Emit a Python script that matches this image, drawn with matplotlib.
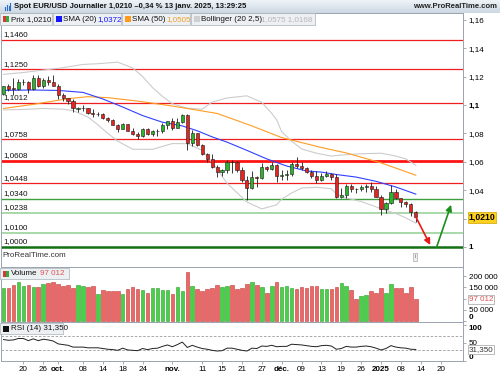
#!/usr/bin/env python3
# Daily EUR/USD candles with SMA, Bollinger, volume and RSI panels

import numpy as np
import pandas as pd
import matplotlib.pyplot as plt
from matplotlib.patches import Rectangle

plt.rcParams['font.family'] = ['Liberation Sans', 'DejaVu Sans']

#==============================================================================
# data

first_day = '2024-09-16'
closed_days = ['2024-12-25', '2025-01-01']

opens = [1.1075, 1.1132, 1.1117, 1.1114, 1.1160, 1.1164, 1.1111, 1.1190, 1.1134, 1.1178,
         1.1164, 1.1135, 1.1068, 1.1047, 1.1031, 1.0972, 1.0975, 1.0978, 1.0942, 1.0934,
         1.0937, 1.0908, 1.0891, 1.0862, 1.0833, 1.0867, 1.0817, 1.0797, 1.0782, 1.0827,
         1.0796, 1.0815, 1.0816, 1.0856, 1.0884, 1.0834, 1.0880, 1.0932, 1.0730, 1.0800,
         1.0720, 1.0655, 1.0622, 1.0565, 1.0530, 1.0541, 1.0597, 1.0595, 1.0543, 1.0473,
         1.0417, 1.0494, 1.0487, 1.0566, 1.0551, 1.0577, 1.0499, 1.0509, 1.0511, 1.0587,
         1.0567, 1.0554, 1.0527, 1.0499, 1.0468, 1.0502, 1.0514, 1.0490, 1.0352, 1.0366,
         1.0429, 1.0406, 1.0405, 1.0422, 1.0428, 1.0406, 1.0354, 1.0265, 1.0308, 1.0389,
         1.0342, 1.0320, 1.0300, 1.0243]
highs = [1.1136, 1.1147, 1.1189, 1.1180, 1.1180, 1.1168, 1.1214, 1.1214, 1.1187, 1.1202,
         1.1209, 1.1145, 1.1082, 1.1050, 1.1040, 1.0983, 1.0998, 1.0981, 1.0969, 1.0950,
         1.0940, 1.0912, 1.0904, 1.0868, 1.0871, 1.0867, 1.0837, 1.0806, 1.0837, 1.0838,
         1.0826, 1.0830, 1.0870, 1.0885, 1.0905, 1.0905, 1.0937, 1.0937, 1.0826, 1.0805,
         1.0722, 1.0661, 1.0652, 1.0575, 1.0550, 1.0609, 1.0610, 1.0608, 1.0566, 1.0497,
         1.0536, 1.0501, 1.0588, 1.0568, 1.0597, 1.0584, 1.0540, 1.0545, 1.0595, 1.0630,
         1.0595, 1.0564, 1.0541, 1.0536, 1.0524, 1.0535, 1.0519, 1.0515, 1.0412, 1.0444,
         1.0446, 1.0413, 1.0437, 1.0445, 1.0458, 1.0430, 1.0367, 1.0318, 1.0436, 1.0406,
         1.0343, 1.0323, 1.0313, 1.0250]
lows = [1.1070, 1.1100, 1.1069, 1.1104, 1.1137, 1.1083, 1.1107, 1.1123, 1.1121, 1.1137,
        1.1132, 1.1043, 1.1030, 1.1003, 1.0952, 1.0950, 1.0958, 1.0937, 1.0917, 1.0925,
        1.0900, 1.0880, 1.0860, 1.0811, 1.0830, 1.0813, 1.0790, 1.0761, 1.0777, 1.0791,
        1.0781, 1.0780, 1.0805, 1.0830, 1.0823, 1.0834, 1.0870, 1.0682, 1.0713, 1.0710,
        1.0647, 1.0595, 1.0555, 1.0496, 1.0498, 1.0523, 1.0524, 1.0530, 1.0460, 1.0332,
        1.0411, 1.0424, 1.0475, 1.0532, 1.0545, 1.0460, 1.0474, 1.0472, 1.0502, 1.0555,
        1.0540, 1.0520, 1.0483, 1.0453, 1.0465, 1.0491, 1.0473, 1.0343, 1.0343, 1.0343,
        1.0384, 1.0383, 1.0394, 1.0390, 1.0385, 1.0350, 1.0226, 1.0240, 1.0302, 1.0335,
        1.0281, 1.0282, 1.0215, 1.0178]
closes = [1.1132, 1.1115, 1.1114, 1.1162, 1.1164, 1.1111, 1.1190, 1.1134, 1.1178, 1.1164,
          1.1135, 1.1068, 1.1047, 1.1031, 1.0975, 1.0978, 1.0980, 1.0942, 1.0937, 1.0937,
          1.0908, 1.0891, 1.0862, 1.0833, 1.0867, 1.0817, 1.0797, 1.0782, 1.0827, 1.0796,
          1.0815, 1.0816, 1.0856, 1.0884, 1.0834, 1.0880, 1.0932, 1.0730, 1.0800, 1.0720,
          1.0655, 1.0622, 1.0565, 1.0530, 1.0541, 1.0597, 1.0595, 1.0543, 1.0473, 1.0417,
          1.0494, 1.0487, 1.0566, 1.0551, 1.0577, 1.0499, 1.0509, 1.0511, 1.0587, 1.0567,
          1.0554, 1.0527, 1.0499, 1.0468, 1.0502, 1.0514, 1.0490, 1.0352, 1.0366, 1.0429,
          1.0406, 1.0405, 1.0422, 1.0428, 1.0406, 1.0354, 1.0265, 1.0308, 1.0389, 1.0342,
          1.0320, 1.0300, 1.0243, 1.0210]

# volume in thousands
volumes = [145, 145, 160, 172, 157, 160, 150, 150, 164, 167,
           172, 164, 155, 162, 145, 162, 157, 150, 155, 120,
           136, 135, 132, 135, 120, 142, 150, 141, 136, 125,
           148, 148, 136, 136, 120, 150, 134, 218, 155, 143,
           135, 142, 145, 158, 150, 155, 160, 142, 148, 164,
           172, 160, 150, 123, 157, 172, 150, 155, 145, 141,
           150, 145, 157, 157, 141, 142, 141, 150, 167, 157,
           138, 98, 111, 115, 133, 123, 145, 123, 164, 145,
           145, 123, 150, 97.012]

rsi14 = [59, 57, 58, 62, 62, 56, 61, 56, 60, 58,
         55, 47, 45, 43, 38, 38, 38, 36, 36, 36,
         34, 32, 31, 29, 35, 30, 29, 28, 34, 31,
         34, 35, 40, 44, 39, 45, 52, 37, 43, 38,
         34, 32, 29, 27, 28, 35, 35, 32, 29, 27,
         35, 34, 41, 40, 43, 39, 40, 40, 46, 45,
         44, 42, 40, 39, 42, 43, 41, 32, 34, 40,
         38, 38, 40, 41, 39, 35, 30, 34, 42, 38,
         36, 35, 32, 31.35]

# indicator lines, read at some bars
sma20_bar = [0, 6, 11, 16, 20, 24, 28, 32, 36, 39, 42, 45, 49, 53, 57, 61, 64, 67, 71, 75, 79, 83]
sma20 = [1.1102, 1.1105, 1.1102, 1.1088, 1.1042, 1.0985, 1.0925, 1.0878, 1.0852, 1.0818, 1.0775,
         1.0738, 1.0680, 1.0620, 1.0570, 1.0535, 1.0527, 1.0510, 1.0492, 1.0462, 1.0422, 1.0372]
sma50_bar = [0, 6, 13, 17, 21, 27, 34, 43, 50, 56, 64, 69, 76, 83]
sma50 = [1.0975, 1.1004, 1.1044, 1.1058, 1.1051, 1.1027, 1.0992, 1.0940, 1.0852, 1.0770,
         1.0700, 1.0662, 1.0592, 1.0505]
boll_up_bar = [0, 4, 8, 12, 16, 19, 23, 26, 28, 30, 32, 34, 37, 40, 42, 45, 49, 52, 54, 55,
               56, 58, 60, 63, 66, 69, 72, 76, 79, 81, 83]
boll_up = [1.1215, 1.1228, 1.1245, 1.1262, 1.1285, 1.1290, 1.1301, 1.1260, 1.1200, 1.1122,
           1.1060, 1.1008, 1.0977, 1.0970, 1.1020, 1.1049, 1.1064, 1.1018, 1.0940, 1.0894,
           1.0811, 1.0745, 1.0690, 1.0660, 1.0640, 1.0650, 1.0656, 1.0660, 1.0640, 1.0620,
           1.0575]
boll_low_bar = [0, 4, 8, 12, 14, 17, 19, 21, 23, 26, 30, 34, 37, 40, 42, 45, 49, 52, 55, 56,
                58, 60, 63, 66, 67, 69, 72, 76, 79, 81, 83]
boll_low = [1.0965, 1.0968, 1.0975, 1.0970, 1.0960, 1.0915, 1.0860, 1.0800, 1.0745, 1.0688,
            1.0687, 1.0728, 1.0727, 1.0680, 1.0595, 1.0449, 1.0316, 1.0268, 1.0297, 1.0336,
            1.0380, 1.0415, 1.0420, 1.0410, 1.0373, 1.0345, 1.0320, 1.0270, 1.0235, 1.0205,
            1.0168]

levels = [1.1460, 1.1250, 1.1012, 1.0758, 1.0608, 1.0448, 1.0340, 1.0238, 1.0100, 1.0000]

tick_dates = ['2024-09-20', '2024-09-26', '2024-10-01', '2024-10-08', '2024-10-14',
              '2024-10-18', '2024-10-24', '2024-11-01', '2024-11-11', '2024-11-15',
              '2024-11-21', '2024-11-27', '2024-12-03', '2024-12-09', '2024-12-13',
              '2024-12-19', '2024-12-26', '2025-01-02', '2025-01-08', '2025-01-14',
              '2025-01-20']
tick_labels = ['20', '26', 'oct.', '08', '14', '18', '24', 'nov.', '11', '15', '21', '27',
               'déc.', '09', '13', '19', '26', '2025', '08', '14', '20']
bold_ticks = ['oct.', 'nov.', 'déc.', '2025']

# projected move drawn as two arrows (bar position, price)
red_arrow_x = [83, 85.9]
red_arrow_y = [1.0212, 1.0014]
green_arrow_x = [87.2, 90.1]
green_arrow_y = [1.0000, 1.0297]

#==============================================================================
# layout helpers (pixels of a 500x375 picture)
W, H = 500, 375


def px_box(left, top, right, bottom):
    return [left / W, 1 - bottom / H, (right - left) / W, (bottom - top) / H]


def fxy(px, py):
    return px / W, 1 - py / H


def comma(v, nd):
    return f'{v:.{nd}f}'.replace('.', ',')


days = pd.bdate_range(first_day, '2025-01-31')
days = days[~days.isin(pd.to_datetime(closed_days))]
bar_of = {d: i for i, d in enumerate(days)}
tick_pos = [bar_of[pd.Timestamp(d)] for d in tick_dates]

o = np.array(opens)
h = np.array(highs)
l = np.array(lows)
c = np.array(closes)
x = np.arange(len(o))
up = c >= o

edge_col = '#9aa4ae'
fs = 5.8

fig = plt.figure(figsize=(5, 3.75), dpi=100)

# title bar
ax_t = fig.add_axes(px_box(0, 0, 500, 13))
grad = np.linspace(0, 1, 20).reshape(-1, 1)
ax_t.imshow(grad, aspect='auto', cmap=plt.matplotlib.colors.LinearSegmentedColormap.from_list(
    'bar', ['#eef3f8', '#cdd8e3']), extent=[0, 1, 0, 1])
ax_t.set_xlim(0, 1)
ax_t.set_ylim(0, 1)
ax_t.axis('off')
for k, hgt in enumerate([0.35, 0.6, 0.45, 0.8]):
    ax_t.add_line(plt.Line2D([0.009 + k * 0.004] * 2, [0.2, 0.2 + hgt * 0.7],
                             color='#2a6fd0', lw=0.8))
ax_t.text(0.028, 0.5, 'Spot EUR/USD Journalier 1,0210 \u20130,34 % 13 janv. 2025, 13:29:25',
          fontsize=5.5, fontweight='bold', va='center', ha='left', color='#111111')
ax_t.text(0.995, 0.5, 'www.ProRealTime.com', fontsize=5.5, fontweight='bold',
          va='center', ha='right', color='#222222')

ax = fig.add_axes(px_box(1, 13, 463, 267))
axv = fig.add_axes(px_box(1, 267, 463, 322), sharex=ax)
axr = fig.add_axes(px_box(1, 322, 463, 361), sharex=ax)

#==============================================================================
# price panel
level_style = [('#f01e1e', 0.9), ('#f01e1e', 0.9), ('#f01e1e', 0.9), ('#f01e1e', 0.9),
               ('#ff1414', 2.0), ('#f01e1e', 0.9), ('#3d9f3d', 1.0), ('#a8d8a8', 1.4),
               ('#a8d8a8', 1.4), ('#137013', 1.8)]
for lev, (col, lw) in zip(levels, level_style):
    ax.axhline(lev, color=col, lw=lw, zorder=1)
    ax.annotate(comma(lev, 4), xy=(0, lev), xycoords=('axes fraction', 'data'),
                xytext=(1.5, 1.2), textcoords='offset points', va='bottom', ha='left',
                fontsize=fs, color='#111111', zorder=6)

ax.plot(boll_up_bar, boll_up, color='#cccccc', lw=0.8, zorder=2)
ax.plot(boll_low_bar, boll_low, color='#cccccc', lw=0.8, zorder=2)
ax.plot(sma50_bar, sma50, color='#ff9c22', lw=0.8, zorder=2)
ax.plot(sma20_bar, sma20, color='#3040ff', lw=0.8, zorder=2)

ax.vlines(x, l, h, color='#1a1a1a', lw=0.6, zorder=3)
body = np.maximum(np.abs(c - o), 0.00025)
ax.bar(x, body, bottom=np.minimum(o, c), width=0.64,
       color=np.where(up, '#2cb52c', '#e3261f'), edgecolor='#1a1a1a', linewidth=0.4, zorder=4)

ax.annotate('', xy=(red_arrow_x[1], red_arrow_y[1]), xytext=(red_arrow_x[0], red_arrow_y[0]),
            arrowprops=dict(arrowstyle='-|>', color='#e81a1a', lw=1.2, mutation_scale=9,
                            shrinkA=0, shrinkB=0), zorder=5)
ax.annotate('', xy=(green_arrow_x[1], green_arrow_y[1]), xytext=(green_arrow_x[0], green_arrow_y[0]),
            arrowprops=dict(arrowstyle='-|>', color='#1d8e1d', lw=1.2, mutation_scale=9,
                            shrinkA=0, shrinkB=0), zorder=5)

ax.set_xlim(-0.5, 92.5)
ax.set_ylim(0.9859, 1.1647)
ptick = [1.0, 1.02, 1.04, 1.06, 1.08, 1.1, 1.12, 1.14, 1.16]
# 1,02 sits under the last price box, so it gets no text
plabels = ['' if v == 1.02 else f'{v:g}'.replace('.', ',') for v in ptick]
ax.yaxis.tick_right()
ax.set_yticks(ptick, plabels)
for t in ax.get_yticklabels():
    if t.get_text() in ('1', '1,1'):
        t.set_fontweight('bold')
ax.annotate('1,0210', xy=(1, closes[-1]), xycoords=('axes fraction', 'data'),
            xytext=(4, 0), textcoords='offset points', va='center', ha='left',
            fontsize=6.2, fontweight='bold', annotation_clip=False,
            bbox=dict(boxstyle='square,pad=0.12', fc='#ffd01c', ec='#d0a400', lw=0.5))
ax.text(0.004, 0.04, 'ProRealTime.com', transform=ax.transAxes, fontsize=fs, color='#333333')
ax.text(0.897, 0.03, 'i', transform=ax.transAxes, fontsize=4.5, color='#666666',
        ha='center', va='bottom',
        bbox=dict(boxstyle='square,pad=0.2', fc='#eeeeee', ec='#999999', lw=0.4))

#==============================================================================
# volume panel
vol = np.array(volumes) * 1000
axv.bar(x, vol, width=0.72, color=np.where(up, '#48d048', '#ec6868'),
        edgecolor=np.where(up, '#2b9e2b', '#c23b3b'), linewidth=0.4)
axv.set_ylim(-4400, 240000)
vtick = [0, 50000, 100000, 150000, 200000]
axv.yaxis.tick_right()
# 100 000 is covered by the last volume box
axv.set_yticks(vtick, ['0', '50 000', '', '150 000', '200 000'])
t0 = axv.get_yticklabels()[0]
t0.set_fontweight('bold')
t0.set_verticalalignment('bottom')
axv.annotate('97 012', xy=(1, volumes[-1] * 1000), xycoords=('axes fraction', 'data'),
             xytext=(4, 0), textcoords='offset points', va='center', ha='left',
             fontsize=fs, color='#e05050', annotation_clip=False,
             bbox=dict(boxstyle='square,pad=0.12', fc='white', ec='#a0a0a0', lw=0.5))

#==============================================================================
# RSI panel
axr.axhline(70, color='#9a9a9a', lw=0.6, ls=(0, (3, 2)))
axr.axhline(30, color='#9a9a9a', lw=0.6, ls=(0, (3, 2)))
axr.plot(x, rsi14, color='#202020', lw=0.7)
axr.set_ylim(-0.8, 108)
axr.yaxis.tick_right()
axr.set_yticks([0, 50, 100], ['0', '50', '100'])
for t in axr.get_yticklabels():
    if t.get_text() in ('0', '100'):
        t.set_fontweight('bold')
    if t.get_text() == '0':
        t.set_verticalalignment('bottom')
    if t.get_text() == '100':
        t.set_verticalalignment('top')
axr.annotate('31,350', xy=(1, rsi14[-1]), xycoords=('axes fraction', 'data'),
             xytext=(4, 0), textcoords='offset points', va='center', ha='left',
             fontsize=fs, color='#333333', annotation_clip=False,
             bbox=dict(boxstyle='square,pad=0.12', fc='white', ec='#a0a0a0', lw=0.5))

axr.set_xticks(tick_pos, tick_labels)
for t in axr.get_xticklabels():
    if t.get_text() in bold_ticks:
        t.set_fontweight('bold')

for a in (ax, axv, axr):
    a.set_facecolor('white')
    for s in a.spines.values():
        s.set_color(edge_col)
        s.set_linewidth(0.7)
    a.tick_params(axis='y', labelsize=fs, length=2.5, width=0.5, color='#8a8a8a', pad=1.5)
for a in (ax, axv):
    a.tick_params(axis='x', length=0, labelbottom=False)
axr.tick_params(axis='x', labelsize=fs, length=2, width=0.5, color='#8a8a8a', pad=1.5)

#==============================================================================
# legend boxes drawn on the figure


def legend_box(x0, x1, y0, y1):
    fig.patches.append(Rectangle(fxy(x0, y1), (x1 - x0) / W, (y1 - y0) / H,
                                 transform=fig.transFigure, fc='#edf0f3', ec='#a8b1ba',
                                 lw=0.5, zorder=5))


def swatch(x0, y0, wd, ht, col):
    fig.patches.append(Rectangle(fxy(x0, y0 + ht), wd / W, ht / H,
                                 transform=fig.transFigure, fc=col, ec='none', zorder=6))


def label(px, py, s, col='#111111'):
    fig.text(*fxy(px, py), s, fontsize=fs, color=col, va='center', ha='left', zorder=7)


legend_box(0, 52, 13, 25)
swatch(3, 16, 3, 6, '#d33a3a')
swatch(6, 16, 3, 6, '#3aa83a')
label(11, 19.5, 'Prix 1,0210')

legend_box(53, 121, 13, 25)
swatch(56, 16, 6, 6, '#1414ff')
label(63, 19.5, 'SMA (20)')
label(97, 19.5, '1,0372', '#1414ff')

legend_box(122, 190, 13, 25)
swatch(125, 16, 6, 6, '#ff9a1a')
label(132, 19.5, 'SMA (50)')
label(166, 19.5, '1,0505', '#f0a030')

legend_box(191, 315, 13, 25)
swatch(194, 16, 6, 6, '#cfcfcf')
label(201, 19.5, 'Bollinger (20 2,5)')
label(261, 19.5, '1,0575 1,0168', '#b5b5b5')

legend_box(0, 69, 268, 279)
swatch(3, 270.5, 3, 6, '#d33a3a')
swatch(6, 270.5, 3, 6, '#3aa83a')
label(11, 273.5, 'Volume')
label(40, 273.5, '97 012', '#e05050')

legend_box(0, 63, 323, 334)
swatch(3, 325.5, 6, 6, '#111111')
label(11, 328.5, 'RSI (14) 31,350')

# save figure
plt.savefig('out.png', dpi=100)
